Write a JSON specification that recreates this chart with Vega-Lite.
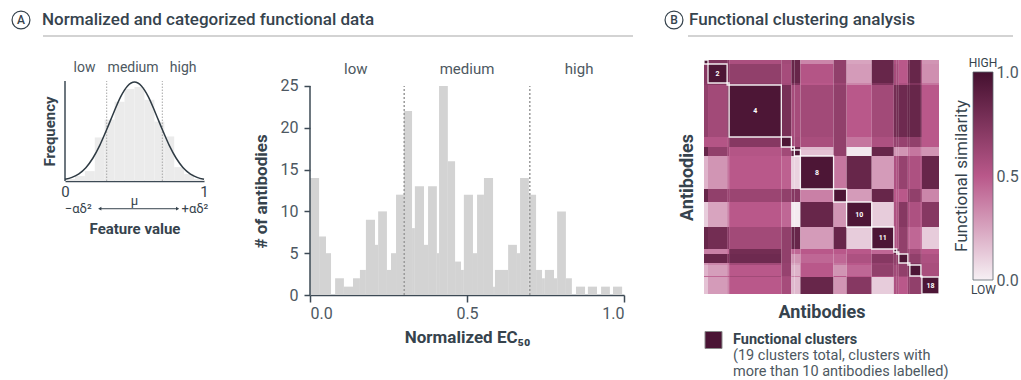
{
  "$schema": "https://vega.github.io/schema/vega-lite/v6.json",
  "background": "white",
  "padding": {"left": 9, "top": 8, "right": 2, "bottom": 0},
  "config": {
    "font": "Roboto",
    "view": {"stroke": null},
    "axis": {"grid": false, "domainColor": "#3d4a55", "tickColor": "#3d4a55", "labelColor": "#4d5861", "titleColor": "#36434d", "labelFontSize": 16, "titleFontSize": 17, "titleFontWeight": "bold", "domainWidth": 1.5, "tickWidth": 1.5},
    "title": {"color": "#36434d"},
    "text": {"color": "#4d5861"}
  },
  "datasets": {
    "hist": [
      {"a":0.000,"b":0.029,"n":14},{"a":0.029,"b":0.051,"n":7},{"a":0.051,"b":0.067,"n":5},{"a":0.080,"b":0.108,"n":2},
      {"a":0.108,"b":0.137,"n":1},{"a":0.137,"b":0.159,"n":2},{"a":0.159,"b":0.178,"n":3},{"a":0.178,"b":0.207,"n":9},
      {"a":0.207,"b":0.217,"n":6},{"a":0.217,"b":0.245,"n":10},{"a":0.245,"b":0.258,"n":3},{"a":0.258,"b":0.274,"n":5},
      {"a":0.274,"b":0.299,"n":12},{"a":0.299,"b":0.325,"n":22},{"a":0.325,"b":0.334,"n":8},{"a":0.334,"b":0.363,"n":13},
      {"a":0.363,"b":0.376,"n":6},{"a":0.376,"b":0.404,"n":13},{"a":0.404,"b":0.411,"n":5},{"a":0.411,"b":0.439,"n":25},
      {"a":0.439,"b":0.462,"n":16},{"a":0.462,"b":0.481,"n":4},{"a":0.481,"b":0.490,"n":3},{"a":0.490,"b":0.519,"n":12},
      {"a":0.519,"b":0.532,"n":5},{"a":0.532,"b":0.554,"n":12},{"a":0.554,"b":0.583,"n":14},{"a":0.583,"b":0.589,"n":1},
      {"a":0.589,"b":0.631,"n":3},{"a":0.631,"b":0.659,"n":6},{"a":0.659,"b":0.669,"n":5},{"a":0.669,"b":0.697,"n":14},
      {"a":0.697,"b":0.720,"n":12},{"a":0.720,"b":0.739,"n":3},{"a":0.739,"b":0.748,"n":2},{"a":0.748,"b":0.777,"n":3},
      {"a":0.777,"b":0.787,"n":2},{"a":0.787,"b":0.815,"n":10},{"a":0.815,"b":0.834,"n":2},{"a":0.847,"b":0.876,"n":1},
      {"a":0.885,"b":0.914,"n":1},{"a":0.927,"b":0.955,"n":1},{"a":0.965,"b":0.994,"n":1}
    ],
    "bellbars": [
      {"a":0.000,"b":0.0714,"h":0.02},{"a":0.0714,"b":0.1429,"h":0.05},{"a":0.1429,"b":0.2143,"h":0.10},{"a":0.2143,"b":0.2857,"h":0.44},
      {"a":0.2857,"b":0.3571,"h":0.62},{"a":0.3571,"b":0.4286,"h":0.80},{"a":0.4286,"b":0.5,"h":0.93},{"a":0.5,"b":0.5714,"h":0.95},
      {"a":0.5714,"b":0.6429,"h":0.82},{"a":0.6429,"b":0.7143,"h":0.60},{"a":0.7143,"b":0.7857,"h":0.45},{"a":0.7857,"b":0.8571,"h":0.14},
      {"a":0.8571,"b":0.9286,"h":0.07},{"a":0.9286,"b":1.0,"h":0.02}
    ],
    "bellcurve": [
      {"x":0.00,"y":0.017},{"x":0.05,"y":0.037},{"x":0.10,"y":0.073},{"x":0.15,"y":0.135},{"x":0.20,"y":0.23},
      {"x":0.25,"y":0.36},{"x":0.30,"y":0.52},{"x":0.35,"y":0.69},{"x":0.40,"y":0.85},{"x":0.45,"y":0.96},
      {"x":0.50,"y":1.0},{"x":0.55,"y":0.96},{"x":0.60,"y":0.85},{"x":0.65,"y":0.69},{"x":0.70,"y":0.52},
      {"x":0.75,"y":0.36},{"x":0.80,"y":0.23},{"x":0.85,"y":0.135},{"x":0.90,"y":0.073},{"x":0.95,"y":0.037},{"x":1.00,"y":0.017}
    ],
    "segs": [
      {"id":1,"s":0,"e":4,"big":false},{"id":2,"s":4,"e":23,"big":true},{"id":3,"s":23,"e":25,"big":false},
      {"id":4,"s":25,"e":77,"big":true},{"id":5,"s":77,"e":87,"big":false},{"id":6,"s":87,"e":90,"big":false},
      {"id":7,"s":90,"e":96,"big":false},{"id":8,"s":96,"e":129,"big":true},{"id":9,"s":129,"e":142,"big":false},
      {"id":10,"s":142,"e":167,"big":true},{"id":11,"s":167,"e":189,"big":true},{"id":12,"s":189,"e":192,"big":false},
      {"id":13,"s":192,"e":194,"big":false},{"id":14,"s":194,"e":203,"big":false},{"id":15,"s":203,"e":205,"big":false},
      {"id":16,"s":205,"e":216,"big":false},{"id":17,"s":216,"e":217,"big":false},{"id":18,"s":217,"e":234,"big":true}
    ],
    "cells": [
      {"r":1,"c":1,"v":0.96},{"r":1,"c":2,"v":0.75},{"r":1,"c":3,"v":0.70},{"r":1,"c":4,"v":0.56},{"r":1,"c":5,"v":0.60},{"r":1,"c":6,"v":0.85},{"r":1,"c":7,"v":0.85},{"r":1,"c":8,"v":0.35},{"r":1,"c":9,"v":0.67},{"r":1,"c":10,"v":0.25},{"r":1,"c":11,"v":0.85},{"r":1,"c":12,"v":0.55},{"r":1,"c":13,"v":0.55},{"r":1,"c":14,"v":0.50},{"r":1,"c":15,"v":0.75},{"r":1,"c":16,"v":0.85},{"r":1,"c":17,"v":0.60},{"r":1,"c":18,"v":0.30},
      {"r":2,"c":1,"v":0.72},{"r":2,"c":2,"v":0.96},{"r":2,"c":3,"v":0.72},{"r":2,"c":4,"v":0.67},{"r":2,"c":5,"v":0.58},{"r":2,"c":6,"v":0.85},{"r":2,"c":7,"v":0.85},{"r":2,"c":8,"v":0.52},{"r":2,"c":9,"v":0.67},{"r":2,"c":10,"v":0.28},{"r":2,"c":11,"v":0.85},{"r":2,"c":12,"v":0.58},{"r":2,"c":13,"v":0.58},{"r":2,"c":14,"v":0.50},{"r":2,"c":15,"v":0.78},{"r":2,"c":16,"v":0.85},{"r":2,"c":17,"v":0.60},{"r":2,"c":18,"v":0.32},
      {"r":3,"c":1,"v":0.70},{"r":3,"c":2,"v":0.72},{"r":3,"c":3,"v":0.96},{"r":3,"c":4,"v":0.70},{"r":3,"c":5,"v":0.60},{"r":3,"c":6,"v":0.75},{"r":3,"c":7,"v":0.75},{"r":3,"c":8,"v":0.50},{"r":3,"c":9,"v":0.62},{"r":3,"c":10,"v":0.35},{"r":3,"c":11,"v":0.75},{"r":3,"c":12,"v":0.58},{"r":3,"c":13,"v":0.58},{"r":3,"c":14,"v":0.55},{"r":3,"c":15,"v":0.70},{"r":3,"c":16,"v":0.75},{"r":3,"c":17,"v":0.60},{"r":3,"c":18,"v":0.40},
      {"r":4,"c":1,"v":0.67},{"r":4,"c":2,"v":0.60},{"r":4,"c":3,"v":0.70},{"r":4,"c":4,"v":0.96},{"r":4,"c":5,"v":0.78},{"r":4,"c":6,"v":0.58},{"r":4,"c":7,"v":0.58},{"r":4,"c":8,"v":0.60},{"r":4,"c":9,"v":0.67},{"r":4,"c":10,"v":0.50},{"r":4,"c":11,"v":0.60},{"r":4,"c":12,"v":0.80},{"r":4,"c":13,"v":0.80},{"r":4,"c":14,"v":0.82},{"r":4,"c":15,"v":0.85},{"r":4,"c":16,"v":0.85},{"r":4,"c":17,"v":0.70},{"r":4,"c":18,"v":0.50},
      {"r":5,"c":1,"v":0.52},{"r":5,"c":2,"v":0.52},{"r":5,"c":3,"v":0.55},{"r":5,"c":4,"v":0.72},{"r":5,"c":5,"v":0.96},{"r":5,"c":6,"v":0.60},{"r":5,"c":7,"v":0.60},{"r":5,"c":8,"v":0.57},{"r":5,"c":9,"v":0.67},{"r":5,"c":10,"v":0.40},{"r":5,"c":11,"v":0.55},{"r":5,"c":12,"v":0.65},{"r":5,"c":13,"v":0.65},{"r":5,"c":14,"v":0.65},{"r":5,"c":15,"v":0.67},{"r":5,"c":16,"v":0.67},{"r":5,"c":17,"v":0.60},{"r":5,"c":18,"v":0.50},
      {"r":6,"c":1,"v":0.85},{"r":6,"c":2,"v":0.67},{"r":6,"c":3,"v":0.60},{"r":6,"c":4,"v":0.52},{"r":6,"c":5,"v":0.60},{"r":6,"c":6,"v":0.96},{"r":6,"c":7,"v":0.85},{"r":6,"c":8,"v":0.18},{"r":6,"c":9,"v":0.67},{"r":6,"c":10,"v":0.03},{"r":6,"c":11,"v":0.85},{"r":6,"c":12,"v":0.30},{"r":6,"c":13,"v":0.30},{"r":6,"c":14,"v":0.30},{"r":6,"c":15,"v":0.40},{"r":6,"c":16,"v":0.40},{"r":6,"c":17,"v":0.35},{"r":6,"c":18,"v":0.30},
      {"r":7,"c":1,"v":0.85},{"r":7,"c":2,"v":0.67},{"r":7,"c":3,"v":0.60},{"r":7,"c":4,"v":0.52},{"r":7,"c":5,"v":0.60},{"r":7,"c":6,"v":0.85},{"r":7,"c":7,"v":0.96},{"r":7,"c":8,"v":0.15},{"r":7,"c":9,"v":0.67},{"r":7,"c":10,"v":0.03},{"r":7,"c":11,"v":0.85},{"r":7,"c":12,"v":0.30},{"r":7,"c":13,"v":0.30},{"r":7,"c":14,"v":0.30},{"r":7,"c":15,"v":0.40},{"r":7,"c":16,"v":0.40},{"r":7,"c":17,"v":0.35},{"r":7,"c":18,"v":0.30},
      {"r":8,"c":1,"v":0.20},{"r":8,"c":2,"v":0.30},{"r":8,"c":3,"v":0.40},{"r":8,"c":4,"v":0.50},{"r":8,"c":5,"v":0.47},{"r":8,"c":6,"v":0.10},{"r":8,"c":7,"v":0.10},{"r":8,"c":8,"v":0.96},{"r":8,"c":9,"v":0.40},{"r":8,"c":10,"v":0.85},{"r":8,"c":11,"v":0.28},{"r":8,"c":12,"v":0.55},{"r":8,"c":13,"v":0.55},{"r":8,"c":14,"v":0.65},{"r":8,"c":15,"v":0.55},{"r":8,"c":16,"v":0.55},{"r":8,"c":17,"v":0.55},{"r":8,"c":18,"v":0.85},
      {"r":9,"c":1,"v":0.85},{"r":9,"c":2,"v":0.67},{"r":9,"c":3,"v":0.62},{"r":9,"c":4,"v":0.63},{"r":9,"c":5,"v":0.67},{"r":9,"c":6,"v":0.72},{"r":9,"c":7,"v":0.72},{"r":9,"c":8,"v":0.37},{"r":9,"c":9,"v":0.96},{"r":9,"c":10,"v":0.28},{"r":9,"c":11,"v":0.85},{"r":9,"c":12,"v":0.50},{"r":9,"c":13,"v":0.50},{"r":9,"c":14,"v":0.50},{"r":9,"c":15,"v":0.67},{"r":9,"c":16,"v":0.67},{"r":9,"c":17,"v":0.60},{"r":9,"c":18,"v":0.35},
      {"r":10,"c":1,"v":0.12},{"r":10,"c":2,"v":0.25},{"r":10,"c":3,"v":0.35},{"r":10,"c":4,"v":0.50},{"r":10,"c":5,"v":0.45},{"r":10,"c":6,"v":0.02},{"r":10,"c":7,"v":0.02},{"r":10,"c":8,"v":0.85},{"r":10,"c":9,"v":0.30},{"r":10,"c":10,"v":0.96},{"r":10,"c":11,"v":0.12},{"r":10,"c":12,"v":0.55},{"r":10,"c":13,"v":0.55},{"r":10,"c":14,"v":0.72},{"r":10,"c":15,"v":0.55},{"r":10,"c":16,"v":0.55},{"r":10,"c":17,"v":0.50},{"r":10,"c":18,"v":0.72},
      {"r":11,"c":1,"v":0.85},{"r":11,"c":2,"v":0.80},{"r":11,"c":3,"v":0.70},{"r":11,"c":4,"v":0.60},{"r":11,"c":5,"v":0.67},{"r":11,"c":6,"v":0.85},{"r":11,"c":7,"v":0.85},{"r":11,"c":8,"v":0.28},{"r":11,"c":9,"v":0.85},{"r":11,"c":10,"v":0.12},{"r":11,"c":11,"v":0.96},{"r":11,"c":12,"v":0.55},{"r":11,"c":13,"v":0.55},{"r":11,"c":14,"v":0.67},{"r":11,"c":15,"v":0.45},{"r":11,"c":16,"v":0.45},{"r":11,"c":17,"v":0.45},{"r":11,"c":18,"v":0.12},
      {"r":12,"c":1,"v":0.37},{"r":12,"c":2,"v":0.37},{"r":12,"c":3,"v":0.45},{"r":12,"c":4,"v":0.80},{"r":12,"c":5,"v":0.67},{"r":12,"c":6,"v":0.45},{"r":12,"c":7,"v":0.45},{"r":12,"c":8,"v":0.50},{"r":12,"c":9,"v":0.50},{"r":12,"c":10,"v":0.50},{"r":12,"c":11,"v":0.45},{"r":12,"c":12,"v":0.96},{"r":12,"c":13,"v":0.85},{"r":12,"c":14,"v":0.67},{"r":12,"c":15,"v":0.60},{"r":12,"c":16,"v":0.60},{"r":12,"c":17,"v":0.55},{"r":12,"c":18,"v":0.50},
      {"r":13,"c":1,"v":0.37},{"r":13,"c":2,"v":0.37},{"r":13,"c":3,"v":0.45},{"r":13,"c":4,"v":0.80},{"r":13,"c":5,"v":0.67},{"r":13,"c":6,"v":0.45},{"r":13,"c":7,"v":0.45},{"r":13,"c":8,"v":0.50},{"r":13,"c":9,"v":0.50},{"r":13,"c":10,"v":0.50},{"r":13,"c":11,"v":0.45},{"r":13,"c":12,"v":0.85},{"r":13,"c":13,"v":0.96},{"r":13,"c":14,"v":0.67},{"r":13,"c":15,"v":0.60},{"r":13,"c":16,"v":0.60},{"r":13,"c":17,"v":0.55},{"r":13,"c":18,"v":0.50},
      {"r":14,"c":1,"v":0.85},{"r":14,"c":2,"v":0.85},{"r":14,"c":3,"v":0.75},{"r":14,"c":4,"v":0.82},{"r":14,"c":5,"v":0.67},{"r":14,"c":6,"v":0.30},{"r":14,"c":7,"v":0.30},{"r":14,"c":8,"v":0.45},{"r":14,"c":9,"v":0.45},{"r":14,"c":10,"v":0.55},{"r":14,"c":11,"v":0.72},{"r":14,"c":12,"v":0.67},{"r":14,"c":13,"v":0.67},{"r":14,"c":14,"v":0.96},{"r":14,"c":15,"v":0.67},{"r":14,"c":16,"v":0.67},{"r":14,"c":17,"v":0.60},{"r":14,"c":18,"v":0.55},
      {"r":15,"c":1,"v":0.30},{"r":15,"c":2,"v":0.35},{"r":15,"c":3,"v":0.40},{"r":15,"c":4,"v":0.60},{"r":15,"c":5,"v":0.65},{"r":15,"c":6,"v":0.25},{"r":15,"c":7,"v":0.25},{"r":15,"c":8,"v":0.50},{"r":15,"c":9,"v":0.40},{"r":15,"c":10,"v":0.50},{"r":15,"c":11,"v":0.65},{"r":15,"c":12,"v":0.65},{"r":15,"c":13,"v":0.65},{"r":15,"c":14,"v":0.67},{"r":15,"c":15,"v":0.96},{"r":15,"c":16,"v":0.75},{"r":15,"c":17,"v":0.65},{"r":15,"c":18,"v":0.57},
      {"r":16,"c":1,"v":0.20},{"r":16,"c":2,"v":0.27},{"r":16,"c":3,"v":0.35},{"r":16,"c":4,"v":0.50},{"r":16,"c":5,"v":0.65},{"r":16,"c":6,"v":0.20},{"r":16,"c":7,"v":0.20},{"r":16,"c":8,"v":0.50},{"r":16,"c":9,"v":0.30},{"r":16,"c":10,"v":0.45},{"r":16,"c":11,"v":0.67},{"r":16,"c":12,"v":0.60},{"r":16,"c":13,"v":0.60},{"r":16,"c":14,"v":0.67},{"r":16,"c":15,"v":0.75},{"r":16,"c":16,"v":0.96},{"r":16,"c":17,"v":0.65},{"r":16,"c":18,"v":0.57},
      {"r":17,"c":1,"v":0.45},{"r":17,"c":2,"v":0.45},{"r":17,"c":3,"v":0.50},{"r":17,"c":4,"v":0.60},{"r":17,"c":5,"v":0.60},{"r":17,"c":6,"v":0.35},{"r":17,"c":7,"v":0.35},{"r":17,"c":8,"v":0.50},{"r":17,"c":9,"v":0.50},{"r":17,"c":10,"v":0.50},{"r":17,"c":11,"v":0.55},{"r":17,"c":12,"v":0.55},{"r":17,"c":13,"v":0.55},{"r":17,"c":14,"v":0.60},{"r":17,"c":15,"v":0.65},{"r":17,"c":16,"v":0.65},{"r":17,"c":17,"v":0.96},{"r":17,"c":18,"v":0.60},
      {"r":18,"c":1,"v":0.15},{"r":18,"c":2,"v":0.28},{"r":18,"c":3,"v":0.35},{"r":18,"c":4,"v":0.50},{"r":18,"c":5,"v":0.58},{"r":18,"c":6,"v":0.18},{"r":18,"c":7,"v":0.18},{"r":18,"c":8,"v":0.85},{"r":18,"c":9,"v":0.30},{"r":18,"c":10,"v":0.72},{"r":18,"c":11,"v":0.12},{"r":18,"c":12,"v":0.55},{"r":18,"c":13,"v":0.55},{"r":18,"c":14,"v":0.50},{"r":18,"c":15,"v":0.67},{"r":18,"c":16,"v":0.67},{"r":18,"c":17,"v":0.60},{"r":18,"c":18,"v":0.96}
    ]
  },
  "vconcat": [
    {
      "width": 948, "height": 26,
      "data": {"values": [{}]},
      "layer": [
        {"mark": {"type": "rule", "color": "#c4c4c4", "strokeWidth": 1.5},
         "encoding": {"x": {"datum": -22, "type": "quantitative", "scale": {"domain": [0, 948], "nice": false, "zero": false}, "axis": null}, "x2": {"datum": 568}, "y": {"datum": 0, "type": "quantitative", "scale": {"domain": [0, 26], "nice": false}, "axis": null}}},
        {"mark": {"type": "rule", "color": "#c4c4c4", "strokeWidth": 1.5},
         "encoding": {"x": {"datum": 623, "type": "quantitative"}, "x2": {"datum": 948}, "y": {"datum": 0, "type": "quantitative"}}},
        {"mark": {"type": "point", "shape": "circle", "size": 320, "filled": false, "color": "#36434d", "strokeWidth": 1.2, "opacity": 1},
         "encoding": {"x": {"datum": -44, "type": "quantitative"}, "y": {"datum": 16, "type": "quantitative"}}},
        {"mark": {"type": "text", "text": "A", "fontSize": 12, "fontWeight": 500, "color": "#36434d", "baseline": "middle", "align": "center"},
         "encoding": {"x": {"datum": -44, "type": "quantitative"}, "y": {"datum": 16, "type": "quantitative"}}},
        {"mark": {"type": "text", "text": "Normalized and categorized functional data", "fontSize": 17, "fontWeight": 500, "color": "#36434d", "baseline": "middle", "align": "left"},
         "encoding": {"x": {"datum": -23, "type": "quantitative"}, "y": {"datum": 16, "type": "quantitative"}}},
        {"mark": {"type": "point", "shape": "circle", "size": 320, "filled": false, "color": "#36434d", "strokeWidth": 1.2, "opacity": 1},
         "encoding": {"x": {"datum": 609, "type": "quantitative"}, "y": {"datum": 16, "type": "quantitative"}}},
        {"mark": {"type": "text", "text": "B", "fontSize": 12, "fontWeight": 500, "color": "#36434d", "baseline": "middle", "align": "center"},
         "encoding": {"x": {"datum": 609, "type": "quantitative"}, "y": {"datum": 16, "type": "quantitative"}}},
        {"mark": {"type": "text", "text": "Functional clustering analysis", "fontSize": 17, "fontWeight": 500, "color": "#36434d", "baseline": "middle", "align": "left"},
         "encoding": {"x": {"datum": 624, "type": "quantitative"}, "y": {"datum": 16, "type": "quantitative"}}}
      ]
    },
    {
      "hconcat": [
        {
          "hconcat": [
            {
              "width": 139, "height": 121,
              "layer": [
                {"data": {"name": "bellbars"}, "mark": {"type": "rect", "color": "#ebebeb"},
                 "encoding": {
                   "x": {"field": "a", "type": "quantitative", "scale": {"domain": [0, 1], "nice": false}, "axis": {"values": [0, 1], "format": "d", "ticks": false, "labelPadding": 3, "labelFontSize": 15, "labelColor": "#36434d", "labelFlush": false, "title": "Feature value", "titleFontSize": 15, "titlePadding": 22}},
                   "x2": {"field": "b"},
                   "y": {"field": "h", "type": "quantitative", "scale": {"domain": [0, 1.2221], "nice": false}, "axis": {"title": "Frequency", "labels": false, "ticks": false, "domain": false, "titleFontSize": 15, "titlePadding": 8, "titleY": 71}},
                   "y2": {"datum": 0}
                 }},
                {"data": {"values": [{"x": 0.3}, {"x": 0.7}]}, "mark": {"type": "rule", "color": "#a8a8a8", "strokeDash": [1.5, 1.5], "strokeWidth": 1},
                 "encoding": {"x": {"field": "x", "type": "quantitative"}, "y": {"datum": 0, "type": "quantitative"}, "y2": {"datum": 1.01}}},
                {"data": {"values": [{}]}, "mark": {"type": "rule", "color": "#3d4a55", "strokeWidth": 1.5},
                 "encoding": {"x": {"datum": 0, "type": "quantitative"}, "y": {"datum": 0, "type": "quantitative"}, "y2": {"datum": 1.01}}},
                {"data": {"name": "bellcurve"}, "mark": {"type": "line", "color": "#2f3b44", "strokeWidth": 1.5, "interpolate": "monotone"},
                 "encoding": {"x": {"field": "x", "type": "quantitative"}, "y": {"field": "y", "type": "quantitative"}}},
                {"data": {"values": [{"x": 0.14, "t": "low"}, {"x": 0.49, "t": "medium"}, {"x": 0.85, "t": "high"}]},
                 "mark": {"type": "text", "fontSize": 14, "baseline": "middle"},
                 "encoding": {"x": {"field": "x", "type": "quantitative"}, "y": {"datum": 1.141, "type": "quantitative"}, "text": {"field": "t"}}},
                {"data": {"values": [{}]}, "mark": {"type": "rule", "color": "#36434d", "strokeWidth": 1},
                 "encoding": {"x": {"datum": 0.25, "type": "quantitative"}, "x2": {"datum": 0.81}, "y": {"datum": -0.28, "type": "quantitative"}}},
                {"data": {"values": [{}]}, "mark": {"type": "point", "shape": "triangle-left", "size": 14, "filled": true, "color": "#36434d", "opacity": 1},
                 "encoding": {"x": {"datum": 0.25, "type": "quantitative"}, "y": {"datum": -0.28, "type": "quantitative"}}},
                {"data": {"values": [{}]}, "mark": {"type": "point", "shape": "triangle-right", "size": 14, "filled": true, "color": "#36434d", "opacity": 1},
                 "encoding": {"x": {"datum": 0.81, "type": "quantitative"}, "y": {"datum": -0.28, "type": "quantitative"}}},
                {"data": {"values": [{"x": 0.095, "y": -0.28, "t": "−αδ²"}, {"x": 0.935, "y": -0.28, "t": "+αδ²"}, {"x": 0.5, "y": -0.2, "t": "μ"}]},
                 "mark": {"type": "text", "fontSize": 13, "baseline": "middle", "color": "#36434d"},
                 "encoding": {"x": {"field": "x", "type": "quantitative"}, "y": {"field": "y", "type": "quantitative"}, "text": {"field": "t"}}}
              ]
            },
            {
              "width": 314, "height": 235,
              "layer": [
                {"data": {"name": "hist"}, "mark": {"type": "rect", "color": "#d3d3d3"},
                 "encoding": {
                   "x": {"field": "a", "type": "quantitative", "scale": {"domain": [0, 1], "nice": false}, "axis": {"values": [0, 0.5, 1], "format": ".1f", "tickSize": 7, "labelPadding": 3, "title": "Normalized EC₅₀", "titlePadding": 8}},
                   "x2": {"field": "b"},
                   "y": {"field": "n", "type": "quantitative", "scale": {"domain": [0, 28.11], "nice": false}, "axis": {"values": [0, 5, 10, 15, 20, 25], "tickSize": 6, "labelPadding": 6, "domain": false, "title": "# of antibodies", "titlePadding": 10, "titleY": 131}},
                   "y2": {"datum": 0}
                 }},
                {"data": {"values": [{}]}, "mark": {"type": "rule", "color": "#3d4a55", "strokeWidth": 1.5},
                 "encoding": {"x": {"datum": 0, "type": "quantitative"}, "y": {"datum": 0, "type": "quantitative"}, "y2": {"datum": 25}}},
                {"data": {"values": [{"x": 0.3}, {"x": 0.7}]}, "mark": {"type": "rule", "color": "#9a9a9a", "strokeDash": [2, 2], "strokeWidth": 1.5},
                 "encoding": {"x": {"field": "x", "type": "quantitative"}, "y": {"datum": 0, "type": "quantitative"}, "y2": {"datum": 25}}},
                {"data": {"values": [{"x": 0.146, "t": "low"}, {"x": 0.5, "t": "medium"}, {"x": 0.857, "t": "high"}]},
                 "mark": {"type": "text", "fontSize": 15, "baseline": "middle"},
                 "encoding": {"x": {"field": "x", "type": "quantitative"}, "y": {"datum": 27.03, "type": "quantitative"}, "text": {"field": "t"}}}
              ]
            }
          ],
          "spacing": 43
        },
        {
          "vconcat": [
            {
              "hconcat": [
                {
                  "width": 235, "height": 234,
                  "layer": [
                    {"data": {"name": "cells"},
                     "transform": [
                       {"lookup": "c", "from": {"data": {"name": "segs"}, "key": "id", "fields": ["s", "e"]}, "as": ["xs", "xe"]},
                       {"lookup": "r", "from": {"data": {"name": "segs"}, "key": "id", "fields": ["s", "e"]}, "as": ["ys", "ye"]}
                     ],
                     "mark": {"type": "rect"},
                     "encoding": {
                       "x": {"field": "xs", "type": "quantitative", "scale": {"domain": [0, 234], "nice": false, "zero": false}, "axis": {"title": "Antibodies", "labels": false, "ticks": false, "domain": false, "titleFontSize": 18, "titlePadding": 9}},
                       "x2": {"field": "xe"},
                       "y": {"field": "ys", "type": "quantitative", "scale": {"domain": [0, 234], "nice": false, "reverse": true}, "axis": {"title": "Antibodies", "labels": false, "ticks": false, "domain": false, "titleFontSize": 18, "titlePadding": 8}},
                       "y2": {"field": "ye"},
                       "color": {"field": "v", "type": "quantitative", "scale": {"domain": [0, 0.5, 1], "range": ["#f6f0f4", "#b9588a", "#44102f"], "interpolate": "rgb"}, "legend": null}
                     }},
                    {"data": {"name": "segs"}, "mark": {"type": "rect", "filled": false, "color": "#ffffff", "strokeWidth": 1.3, "opacity": 0.9},
                     "encoding": {"x": {"field": "s", "type": "quantitative"}, "x2": {"field": "e"}, "y": {"field": "s", "type": "quantitative"}, "y2": {"field": "e"}}},
                    {"data": {"name": "segs"}, "transform": [{"filter": "datum.big"}, {"calculate": "(datum.s + datum.e) / 2", "as": "m"}],
                     "mark": {"type": "text", "color": "#ffffff", "fontSize": 7, "fontWeight": "bold", "baseline": "middle"},
                     "encoding": {"x": {"field": "m", "type": "quantitative"}, "y": {"field": "m", "type": "quantitative"}, "text": {"field": "id"}}}
                  ]
                },
                {
                  "width": 20, "height": 220,
                  "data": {"values": [{"a": 0, "b": 1, "lo": 0, "hi": 1}]},
                  "layer": [
                    {"mark": {"type": "rect", "fill": {"gradient": "linear", "x1": 0, "y1": 1, "x2": 0, "y2": 0, "stops": [{"offset": 0, "color": "#f6f0f4"}, {"offset": 0.5, "color": "#b9588a"}, {"offset": 1, "color": "#44102f"}]}},
                     "encoding": {
                       "x": {"field": "a", "type": "quantitative", "scale": {"domain": [0, 1], "nice": false}, "axis": {"title": "LOW", "labels": false, "ticks": false, "domain": false, "titleFontSize": 12, "titleFontWeight": "normal", "titlePadding": 4}},
                       "x2": {"field": "b"},
                       "y": {"field": "lo", "type": "quantitative", "scale": {"domain": [0, 1.0577], "nice": false}, "axis": {"orient": "right", "values": [0, 0.5, 1], "format": ".1f", "ticks": false, "domain": false, "labelPadding": 3, "title": null}},
                       "y2": {"field": "hi"}
                     }},
                    {"mark": {"type": "rect", "filled": false, "color": "#5a646c", "strokeWidth": 0.8},
                     "encoding": {
                       "x": {"field": "a", "type": "quantitative"}, "x2": {"field": "b"},
                       "y": {"field": "lo", "type": "quantitative"}, "y2": {"field": "hi"}
                     }},
                    {"mark": {"type": "text", "text": "HIGH", "fontSize": 12, "color": "#36434d", "baseline": "middle"},
                     "encoding": {"x": {"datum": 0.5, "type": "quantitative"}, "y": {"datum": 1.043, "type": "quantitative"}}},
                    {"mark": {"type": "text", "text": "Functional similarity", "fontSize": 17, "color": "#36434d", "angle": 270, "align": "center", "baseline": "middle"},
                     "encoding": {"x": {"datum": -0.55, "type": "quantitative"}, "y": {"datum": 0.5, "type": "quantitative"}}}
                  ]
                }
              ],
              "spacing": 12
            },
            {
              "width": 300, "height": 48,
              "data": {"values": [{"line": 1, "t": "Functional clusters"}, {"line": 2, "t": "(19 clusters total, clusters with"}, {"line": 3, "t": "more than 10 antibodies labelled)"}]},
              "layer": [
                {"transform": [{"filter": "datum.line == 1"}], "mark": {"type": "square", "size": 289, "filled": true, "color": "#4a1434", "stroke": "#8a8a8a", "strokeWidth": 1, "opacity": 1},
                 "encoding": {"x": {"datum": 9.5, "type": "quantitative", "scale": {"domain": [0, 300], "nice": false}, "axis": null}, "y": {"field": "line", "type": "ordinal", "scale": {"type": "point", "padding": 0.5}, "axis": null}}},
                {"transform": [{"filter": "datum.line == 1"}], "mark": {"type": "text", "align": "left", "baseline": "middle", "fontSize": 14.5, "fontWeight": "bold", "color": "#36434d"},
                 "encoding": {"x": {"datum": 29, "type": "quantitative"}, "y": {"field": "line", "type": "ordinal"}, "text": {"field": "t"}}},
                {"transform": [{"filter": "datum.line > 1"}], "mark": {"type": "text", "align": "left", "baseline": "middle", "fontSize": 14.5, "color": "#4d5861"},
                 "encoding": {"x": {"datum": 29, "type": "quantitative"}, "y": {"field": "line", "type": "ordinal"}, "text": {"field": "t"}}}
              ]
            }
          ],
          "spacing": 8
        }
      ],
      "spacing": 53
    }
  ],
  "spacing": 20
}
